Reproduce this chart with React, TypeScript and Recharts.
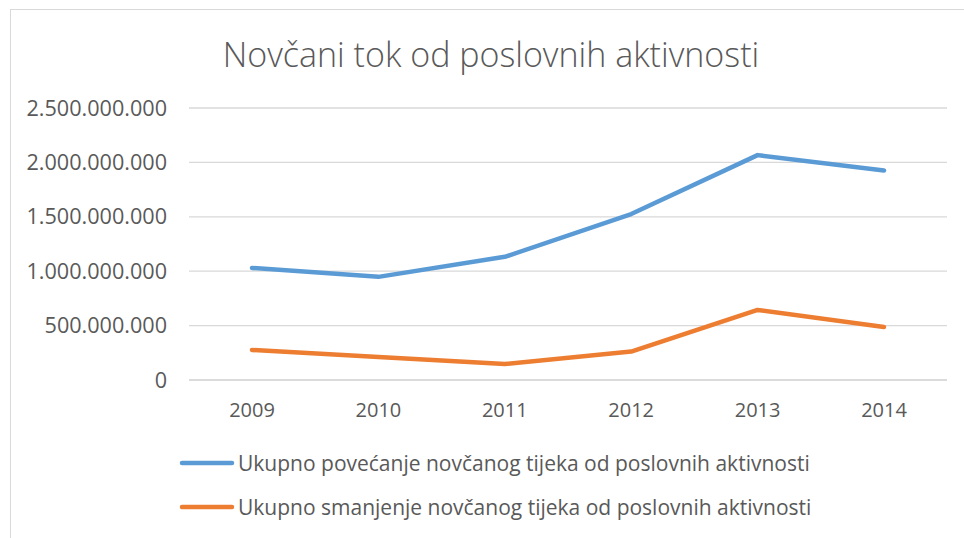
import React from 'react';
import { LineChart, Line, XAxis, YAxis, CartesianGrid } from 'recharts';

const years = ['2009', '2010', '2011', '2012', '2013', '2014'];
const povecanje = [1030000000, 948000000, 1132000000, 1525000000, 2067000000, 1926000000];
const smanjenje = [276000000, 212000000, 147000000, 261000000, 644000000, 488000000];
const yTicks = [0, 500000000, 1000000000, 1500000000, 2000000000, 2500000000];

const title = 'Novčani tok od poslovnih aktivnosti';
const seriesNames = [
  'Ukupno povećanje novčanog tijeka od poslovnih aktivnosti',
  'Ukupno smanjenje novčanog tijeka od poslovnih aktivnosti',
];
const seriesColors = ['#5B9BD5', '#ED7D31'];

const data = years.map((y, i) => ({ year: y, a: povecanje[i], b: smanjenje[i] }));

const fmt = (v: number) => v.toString().replace(/\B(?=(\d{3})+(?!\d))/g, '.');

const FONT = '"Open Sans", sans-serif';
const TXT = '#595959';

export default function App() {
  return (
    <div style={{ position: 'absolute', left: 0, top: 0, width: 964, height: 538, background: '#fff', overflow: 'hidden', fontFamily: FONT }}>
      <div style={{ position: 'absolute', left: 10, top: 9, width: 960, height: 540, border: '1px solid #D9D9D9', boxSizing: 'border-box' }} />
      <div style={{ position: 'absolute', left: 0, width: 982, top: 32, textAlign: 'center', fontSize: 34, fontWeight: 300, color: TXT, lineHeight: '44px' }}>
        {title}
      </div>
      <div style={{ position: 'absolute', left: 0, top: 0 }}>
        <LineChart width={964} height={538} data={data} margin={{ top: 108, right: 17, left: 0, bottom: 128 }}>
          <CartesianGrid vertical={false} stroke="#D9D9D9" strokeWidth={1.3} />
          <XAxis
            dataKey="year"
            padding={{ left: 63, right: 63 }}
            axisLine={{ stroke: '#D9D9D9', strokeWidth: 1.3 }}
            tickLine={false}
            tickSize={0}
            tickMargin={23}
            height={30}
            tick={{ fill: TXT, fontSize: 20, fontFamily: FONT }}
          />
          <YAxis
            domain={[0, 2500000000]}
            ticks={yTicks}
            tickFormatter={fmt}
            axisLine={false}
            tickLine={false}
            tickSize={0}
            tickMargin={22}
            width={189}
            tick={{ fill: TXT, fontSize: 21.6, fontFamily: FONT }}
          />
          <Line dataKey="a" stroke={seriesColors[0]} strokeWidth={4.5} dot={false} strokeLinecap="round" strokeLinejoin="round" isAnimationActive={false} />
          <Line dataKey="b" stroke={seriesColors[1]} strokeWidth={4.5} dot={false} strokeLinecap="round" strokeLinejoin="round" isAnimationActive={false} />
        </LineChart>
      </div>
      {seriesNames.map((n, i) => (
        <div key={n} style={{ position: 'absolute', left: 179, top: 463 + i * 44 - 15, height: 30, display: 'flex', alignItems: 'center' }}>
          <svg width={56} height={10} style={{ marginRight: 3 }}>
            <line x1={3} y1={5} x2={53} y2={5} stroke={seriesColors[i]} strokeWidth={4.5} strokeLinecap="round" />
          </svg>
          <span style={{ fontSize: 21, color: TXT, whiteSpace: 'nowrap' }}>{n}</span>
        </div>
      ))}
    </div>
  );
}
